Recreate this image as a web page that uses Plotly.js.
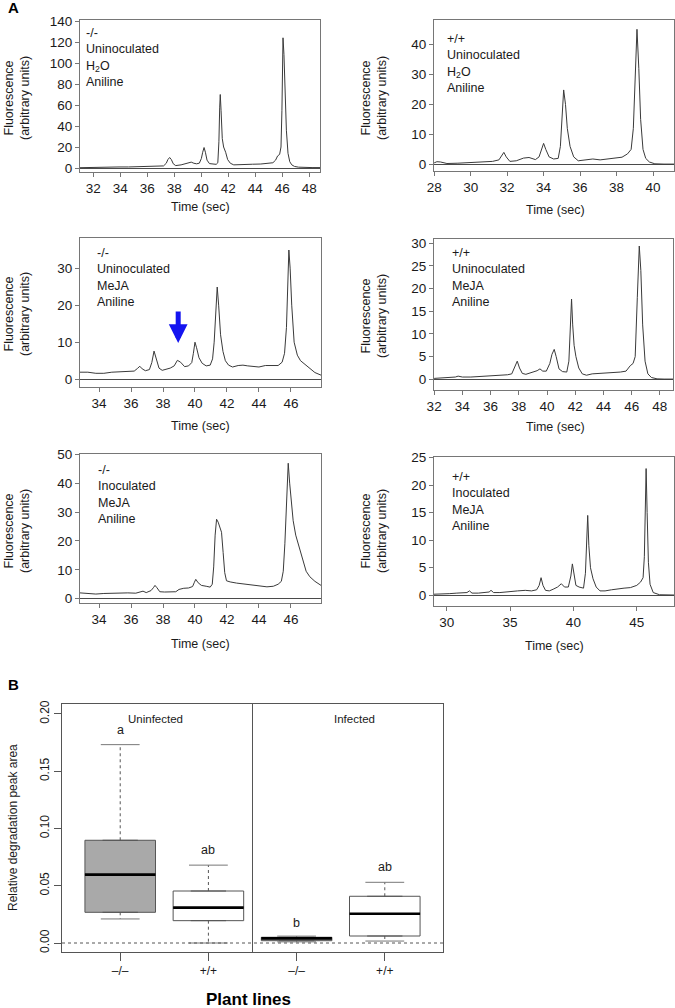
<!DOCTYPE html>
<html><head><meta charset="utf-8">
<script src="https://cdn.plot.ly/plotly-3.0.1.min.js"></script>
<style>html,body{margin:0;padding:0;background:#fff;}#chart{width:675px;height:1008px;}</style>
</head><body><div id="chart"></div>
<script>
// ---------- Panel A data: electropherograms (time in sec, fluorescence) ----------
const p1x = [31.0, 31.8, 32.6, 33.3, 33.6, 33.9, 34.6, 35.5, 36.5, 37.2, 37.4, 37.52, 37.65, 37.78, 37.92, 38.1, 38.5, 38.8, 39.0, 39.25, 39.45, 39.65, 39.85, 40.0, 40.1, 40.2, 40.3, 40.42, 40.6, 40.85, 41.1, 41.22, 41.3, 41.36, 41.4, 41.46, 41.55, 41.65, 41.8, 41.95, 42.15, 42.4, 42.8, 43.3, 43.8, 44.4, 45.0, 45.3, 45.5, 45.65, 45.8, 45.9, 45.97, 46.05, 46.12, 46.2, 46.3, 46.42, 46.55, 46.7, 46.9, 47.2, 47.6, 48.2, 48.8];
const p1y = [0.3, 0.6, 0.6, 0.9, 1.6, 1.0, 1.0, 1.3, 1.6, 2.0, 4.5, 8.0, 10.0, 8.0, 4.0, 2.3, 3.0, 3.8, 4.5, 5.6, 4.5, 4.0, 4.6, 9, 15, 19.5, 15, 7.5, 4.2, 3.5, 3.5, 5, 25, 58, 70, 55, 28, 20, 15, 8, 4.5, 3.0, 3.0, 3.3, 3.6, 3.8, 4.3, 5.0, 7.5, 11.5, 13, 20, 55, 124, 108, 75, 36, 14, 6, 3, 1.5, 0.8, 0.5, 0.4, 0.4];

const p2x = [28.0, 28.15, 28.35, 28.7, 29.3, 30.0, 30.6, 31.2, 31.55, 31.7, 31.82, 31.95, 32.15, 32.5, 32.9, 33.2, 33.55, 33.75, 33.88, 34.0, 34.12, 34.3, 34.55, 34.8, 34.92, 35.02, 35.1, 35.2, 35.3, 35.45, 35.65, 35.9, 36.3, 36.7, 37.1, 37.5, 37.9, 38.3, 38.6, 38.8, 38.92, 39.02, 39.12, 39.22, 39.32, 39.45, 39.6, 39.8, 40.1, 40.6, 41.15];
const p2y = [0.5, 0.9, 0.8, 0.3, 0.4, 0.6, 0.7, 1.0, 1.5, 3.0, 4.0, 2.5, 1.0, 1.2, 2.1, 2.3, 1.6, 2.5, 4.5, 7.0, 5.0, 2.5, 1.8, 2.0, 6, 18, 24.8, 20, 12, 6, 2.5, 1.2, 1.4, 1.8, 1.5, 1.8, 1.9, 2.4, 3.5, 5.0, 12, 32, 45, 32, 15, 5, 2, 0.8, 0.2, 0.1, 0.1];

const p3x = [32.81, 33.3, 33.8, 34.3, 34.8, 35.3, 35.8, 36.2, 36.4, 36.55, 36.7, 36.9, 37.15, 37.3, 37.44, 37.58, 37.75, 37.95, 38.2, 38.45, 38.7, 38.9, 39.1, 39.35, 39.6, 39.8, 39.9, 40.0, 40.1, 40.25, 40.45, 40.7, 40.95, 41.1, 41.2, 41.3, 41.39, 41.48, 41.6, 41.75, 41.9, 42.1, 42.35, 42.7, 43.0, 43.3, 43.6, 44.0, 44.4, 44.8, 45.2, 45.45, 45.6, 45.72, 45.8, 45.87, 45.95, 46.05, 46.2, 46.4, 46.6, 46.9, 47.2, 47.5, 47.88];
const p3y = [1.9, 1.9, 1.6, 1.6, 1.9, 2.0, 2.0, 2.2, 2.9, 3.5, 2.8, 2.3, 2.6, 4.5, 7.6, 5.5, 3.0, 2.4, 2.7, 3.0, 3.6, 5.1, 4.6, 3.4, 3.6, 4.5, 7.0, 10.0, 8.5, 5.8, 4.3, 3.6, 3.8, 5.5, 10, 19, 24.9, 20, 12, 7.5, 5, 3.8, 3.3, 3.7, 3.8, 3.6, 3.4, 3.3, 3.7, 3.8, 3.7, 4.6, 7, 14, 25, 34.9, 30, 20, 10, 6.5, 5, 4, 3, 1.8, 1.1];

const p4x = [32.0, 32.6, 33.2, 33.5, 33.7, 34.0, 34.6, 35.3, 36.0, 36.7, 37.2, 37.5, 37.7, 37.89, 38.05, 38.25, 38.5, 38.8, 39.1, 39.3, 39.5, 39.7, 39.95, 40.2, 40.35, 40.51, 40.65, 40.85, 41.1, 41.4, 41.55, 41.65, 41.74, 41.82, 41.92, 42.05, 42.25, 42.5, 42.8, 43.2, 43.7, 44.2, 44.7, 45.2, 45.6, 45.9, 46.1, 46.25, 46.4, 46.54, 46.65, 46.78, 46.95, 47.15, 47.4, 47.8, 48.3, 48.93];
const p4y = [0.2, 0.3, 0.3, 0.5, 0.7, 0.5, 0.5, 0.6, 0.7, 0.8, 1.0, 1.2, 2.5, 4.0, 2.5, 1.3, 1.1, 1.4, 1.6, 1.9, 2.3, 1.8, 1.8, 3.5, 5.5, 6.6, 5, 2.3, 1.7, 1.6, 4, 11, 17.7, 12, 7.5, 5, 2.5, 1.2, 0.9, 1.2, 1.3, 1.3, 1.5, 1.6, 1.8, 3.0, 3.5, 5, 18, 29.4, 24, 12, 4, 1.2, 0.4, 0.1, 0.05, 0.05];

const p5x = [32.81, 33.3, 33.8, 34.3, 34.8, 35.3, 35.8, 36.3, 36.6, 36.75, 36.95, 37.25, 37.4, 37.5, 37.62, 37.8, 38.1, 38.5, 38.8, 39.0, 39.3, 39.6, 39.85, 39.95, 40.05, 40.2, 40.4, 40.7, 40.95, 41.08, 41.17, 41.26, 41.35, 41.45, 41.55, 41.66, 41.76, 41.86, 41.97, 42.2, 42.6, 43.0, 43.5, 44.0, 44.5, 44.9, 45.2, 45.4, 45.52, 45.62, 45.7, 45.78, 45.83, 45.92, 46.02, 46.14, 46.3, 46.45, 46.6, 46.76, 46.95, 47.18, 47.5, 47.88];
const p5y = [2.0, 1.8, 1.6, 1.8, 1.9, 2.0, 2.0, 1.9, 2.2, 2.6, 2.1, 2.8, 3.8, 4.6, 3.8, 2.4, 2.3, 2.5, 2.4, 3.2, 3.6, 3.7, 4.2, 5.5, 6.7, 5.5, 4.6, 4.3, 4.0, 5.0, 11, 22, 27.5, 26.5, 25, 23, 16, 9, 6.2, 5.8, 5.4, 5.1, 4.6, 4.3, 4.1, 4.3, 5.0, 6.0, 9.5, 19, 32, 43, 46.9, 40, 33, 27, 22, 19, 16, 12.5, 9.5, 7.6, 6.0, 4.6];

const p6x = [29.0, 29.6, 30.2, 30.8, 31.3, 31.6, 31.8, 32.0, 32.5, 33.0, 33.35, 33.5, 33.7, 34.2, 35.0, 35.6, 36.2, 36.7, 37.1, 37.3, 37.45, 37.6, 37.8, 38.1, 38.4, 38.75, 39.05, 39.3, 39.6, 39.8, 39.92, 40.05, 40.2, 40.45, 40.8, 40.95, 41.05, 41.13, 41.22, 41.35, 41.55, 41.8, 42.1, 42.5, 43.0, 43.5, 44.0, 44.5, 45.0, 45.3, 45.5, 45.6, 45.67, 45.74, 45.82, 45.92, 46.05, 46.3, 46.8, 47.3, 47.94];
const p6y = [0.2, 0.2, 0.3, 0.4, 0.4, 0.5, 0.8, 0.4, 0.4, 0.5, 0.6, 0.9, 0.5, 0.5, 0.6, 0.8, 0.9, 0.8, 1.0, 1.8, 3.2, 1.8, 0.9, 0.8, 1.1, 1.5, 2.1, 1.5, 1.5, 3.5, 5.7, 3.5, 1.8, 1.5, 1.3, 4, 11, 14.5, 9, 5, 3, 1.5, 0.8, 0.8, 1.0, 1.2, 1.3, 1.4, 1.8, 2.4, 3.2, 7, 16, 23, 15, 6, 2, 0.5, 0.1, 0.05, 0.05];

const panelLabels = [
  '-/-<br>Uninoculated<br>H<sub>2</sub>O<br>Aniline',
  '+/+<br>Uninoculated<br>H<sub>2</sub>O<br>Aniline',
  '-/-<br>Uninoculated<br>MeJA<br>Aniline',
  '+/+<br>Uninoculated<br>MeJA<br>Aniline',
  '-/-<br>Inoculated<br>MeJA<br>Aniline',
  '+/+<br>Inoculated<br>MeJA<br>Aniline'
];
const arrowTime = 38.95, arrowTipY = 9.8, arrowTailY = 18.7;   // blue arrow, panel 3

// ---------- Panel B data: box-plot statistics ----------
const boxPos   = [1, 2, 3, 4];
const boxGeno  = ['–/–', '+/+', '–/–', '+/+'];
const boxLo    = [0.021, 0.000, 0.001, 0.0017];
const boxQ1    = [0.0268, 0.0195, 0.002, 0.0061];
const boxMed   = [0.0597, 0.0309, 0.004, 0.0256];
const boxQ3    = [0.0897, 0.0454, 0.005, 0.0408];
const boxHi    = [0.1732, 0.068, 0.006, 0.053];
const sigText  = ['a', 'ab', 'b', 'ab'];
const sigY     = [0.186, 0.081, 0.0177, 0.066];
const groupText = ['Uninfected', 'Infected'];
const groupX    = [1.40, 3.66];
const groupY    = 0.196;

// ---------- Layout helpers ----------
const W = 675, H = 1008;
const FONT = 'Liberation Sans, Arial, Helvetica, sans-serif';
const fx = p => p / W;
const fy = p => 1 - p / H;

const panels = [
  {x: p1x, y: p1y, f: [80, 20, 320, 172], xr: [31.01, 48.79], yr: [-3.8, 140.95], xd: 2, yd: 20, lab: [84, 24], tt: [201, 207], yt: [17, 98]},
  {x: p2x, y: p2y, f: [434, 20, 674, 171], xr: [27.99, 41.15], yr: [-2.2, 48.1], xd: 2, yd: 10, lab: [445, 30], tt: [555, 210], yt: [374, 98]},
  {x: p3x, y: p3y, f: [80, 238, 321, 387], xr: [32.81, 47.88], yr: [-2.1, 38.14], xd: 2, yd: 10, lab: [95, 244], tt: [200, 426], yt: [17, 314]},
  {x: p4x, y: p4y, f: [434, 239, 673, 390], xr: [31.99, 48.93], yr: [-2.36, 30.95], xd: 2, yd: 5, lab: [450, 244], tt: [555, 427], yt: [374, 316]},
  {x: p5x, y: p5y, f: [80, 454, 321, 603], xr: [32.81, 47.88], yr: [-1.5, 50.1], xd: 2, yd: 10, lab: [96, 461], tt: [200, 644], yt: [17, 531]},
  {x: p6x, y: p6y, f: [434, 457, 674, 606], xr: [29.0, 47.94], yr: [-1.94, 25.1], xd: 5, yd: 5, lab: [450, 468], tt: [554, 646], yt: [374, 531]}
];

const traces = [];
const layout = {
  width: W, height: H,
  margin: {l: 0, r: 0, t: 0, b: 0, pad: 0},
  paper_bgcolor: '#ffffff', plot_bgcolor: '#ffffff',
  font: {family: FONT, color: '#1a1a1a', size: 12},
  showlegend: false,
  annotations: [], shapes: []
};

const FRAME = '#767676';
panels.forEach((p, i) => {
  const n = i + 1;
  const sx = n === 1 ? '' : String(n);
  traces.push({type: 'scatter', mode: 'lines', x: p.x, y: p.y, xaxis: 'x' + sx, yaxis: 'y' + sx,
    line: {color: '#3a3a3a', width: 1}, hoverinfo: 'skip', showlegend: false});
  layout['xaxis' + sx] = {
    domain: [fx(p.f[0]), fx(p.f[2])], range: p.xr, anchor: 'y' + sx,
    tick0: 0, dtick: p.xd, ticks: 'outside', ticklen: 4, tickcolor: FRAME,
    showline: true, mirror: true, linecolor: FRAME, linewidth: 1,
    showgrid: false, zeroline: false, tickfont: {size: 13.5, color: '#1a1a1a'}, fixedrange: true
  };
  layout['yaxis' + sx] = {
    domain: [fy(p.f[3]), fy(p.f[1])], range: p.yr, anchor: 'x' + sx,
    tick0: 0, dtick: p.yd, ticks: 'outside', ticklen: 4, tickcolor: FRAME,
    showline: true, mirror: true, linecolor: FRAME, linewidth: 1,
    showgrid: false, zeroline: true, zerolinecolor: '#4a4a4a', zerolinewidth: 1,
    tickfont: {size: 13.5, color: '#1a1a1a'}, fixedrange: true
  };
  // condition label
  layout.annotations.push({xref: 'paper', yref: 'paper', x: fx(p.lab[0]), y: fy(p.lab[1]),
    xanchor: 'left', yanchor: 'top', align: 'left', showarrow: false,
    text: panelLabels[i], font: {size: 12.5, color: '#1a1a1a'}});
  // x title
  layout.annotations.push({xref: 'paper', yref: 'paper', x: fx(p.tt[0]), y: fy(p.tt[1]),
    xanchor: 'center', yanchor: 'middle', showarrow: false, text: 'Time (sec)',
    font: {size: 12.5, color: '#1a1a1a'}});
  // y title
  layout.annotations.push({xref: 'paper', yref: 'paper', x: fx(p.yt[0]), y: fy(p.yt[1]),
    xanchor: 'center', yanchor: 'middle', showarrow: false, textangle: -90,
    text: 'Fluorescence<br>(arbitrary units)', font: {size: 12.5, color: '#1a1a1a'}});
});

// blue arrow in panel 3
layout.annotations.push({xref: 'x3', yref: 'y3', x: arrowTime, y: arrowTipY,
  axref: 'x3', ayref: 'y3', ax: arrowTime, ay: arrowTailY, text: '', showarrow: true,
  arrowhead: 2, arrowsize: 0.75, arrowwidth: 5, arrowcolor: '#1414f0', standoff: 0, startstandoff: 0});

// panel letters
layout.annotations.push({xref: 'paper', yref: 'paper', x: fx(6), y: fy(8), xanchor: 'left', yanchor: 'middle',
  showarrow: false, text: '<b>A</b>', font: {size: 15, color: '#000'}});
layout.annotations.push({xref: 'paper', yref: 'paper', x: fx(6), y: fy(684), xanchor: 'left', yanchor: 'middle',
  showarrow: false, text: '<b>B</b>', font: {size: 15, color: '#000'}});

// ---------- Panel B: box plot ----------
const BOXW = 0.8, CAPW = 0.44, BLINE = '#555555';
const fills = {'–/–': '#a9a9a9', '+/+': '#ffffff'};
['–/–', '+/+'].forEach(g => {
  const idx = boxPos.map((_, i) => i).filter(i => boxGeno[i] === g);
  traces.push({type: 'box', xaxis: 'x7', yaxis: 'y7',
    x: idx.map(i => boxPos[i]), q1: idx.map(i => boxQ1[i]), median: idx.map(i => boxMed[i]),
    q3: idx.map(i => boxQ3[i]), lowerfence: idx.map(i => boxQ1[i]), upperfence: idx.map(i => boxQ3[i]),
    width: BOXW, fillcolor: fills[g], line: {color: BLINE, width: 1}, hoverinfo: 'skip', showlegend: false});
});
// whiskers (dashed), caps and medians
const wx = [], wy = [], cx = [], cy = [], mx = [], my = [];
boxPos.forEach((p, i) => {
  wx.push(p, p, null, p, p, null); wy.push(boxQ3[i], boxHi[i], null, boxQ1[i], boxLo[i], null);
  cx.push(p - CAPW / 2, p + CAPW / 2, null, p - CAPW / 2, p + CAPW / 2, null);
  cy.push(boxHi[i], boxHi[i], null, boxLo[i], boxLo[i], null);
  mx.push(p - BOXW / 2, p + BOXW / 2, null); my.push(boxMed[i], boxMed[i], null);
});
traces.push({type: 'scatter', mode: 'lines', xaxis: 'x7', yaxis: 'y7', x: wx, y: wy,
  line: {color: BLINE, width: 1, dash: '3px,3px'}, hoverinfo: 'skip', showlegend: false});
traces.push({type: 'scatter', mode: 'lines', xaxis: 'x7', yaxis: 'y7', x: cx, y: cy,
  line: {color: '#777777', width: 1}, hoverinfo: 'skip', showlegend: false});
traces.push({type: 'scatter', mode: 'lines', xaxis: 'x7', yaxis: 'y7', x: mx, y: my,
  line: {color: '#000000', width: 2.6}, hoverinfo: 'skip', showlegend: false});

layout.xaxis7 = {domain: [fx(62), fx(443)], range: [0.34, 4.66], anchor: 'y7',
  tickvals: boxPos, ticktext: boxGeno, ticks: 'outside', ticklen: 8, tickcolor: BLINE,
  showline: true, mirror: true, linecolor: BLINE, linewidth: 1, showgrid: false, zeroline: false,
  tickfont: {size: 12, color: '#1a1a1a'}, fixedrange: true};
layout.yaxis7 = {domain: [fy(952), fy(704)], range: [-0.00786, 0.2087], anchor: 'x7',
  tick0: 0, dtick: 0.05, tickformat: '.2f', tickangle: -90, ticks: 'outside', ticklen: 7, tickcolor: BLINE,
  showline: true, mirror: true, linecolor: BLINE, linewidth: 1, showgrid: false, zeroline: false,
  tickfont: {size: 12, color: '#1a1a1a'}, fixedrange: true};

const split = (boxPos[1] + boxPos[2]) / 2;
layout.shapes.push({type: 'line', xref: 'x7', yref: 'y7 domain', x0: split, x1: split, y0: 0, y1: 1,
  line: {color: BLINE, width: 1}});
layout.shapes.push({type: 'line', xref: 'x7 domain', yref: 'y7', x0: 0, x1: 1, y0: 0, y1: 0,
  line: {color: '#555555', width: 1, dash: '3px,3px'}});

boxPos.forEach((p, i) => {
  layout.annotations.push({xref: 'x7', yref: 'y7', x: p, y: sigY[i], text: sigText[i], showarrow: false,
    xanchor: 'center', yanchor: 'middle', font: {size: 12.5, color: '#1a1a1a'}});
});
groupText.forEach((t, i) => {
  layout.annotations.push({xref: 'x7', yref: 'y7', x: groupX[i], y: groupY, text: t, showarrow: false,
    xanchor: 'center', yanchor: 'middle', font: {size: 11.5, color: '#1a1a1a'}});
});
layout.annotations.push({xref: 'paper', yref: 'paper', x: fx(13), y: fy(828), textangle: -90,
  text: 'Relative degradation peak area', showarrow: false, xanchor: 'center', yanchor: 'middle',
  font: {size: 12, color: '#1a1a1a'}});
layout.annotations.push({xref: 'paper', yref: 'paper', x: fx(248), y: fy(999),
  text: '<b>Plant lines</b>', showarrow: false, xanchor: 'center', yanchor: 'middle',
  font: {size: 17, color: '#000'}});

Plotly.newPlot('chart', traces, layout, {staticPlot: true, displayModeBar: false});
</script>
</body></html>
